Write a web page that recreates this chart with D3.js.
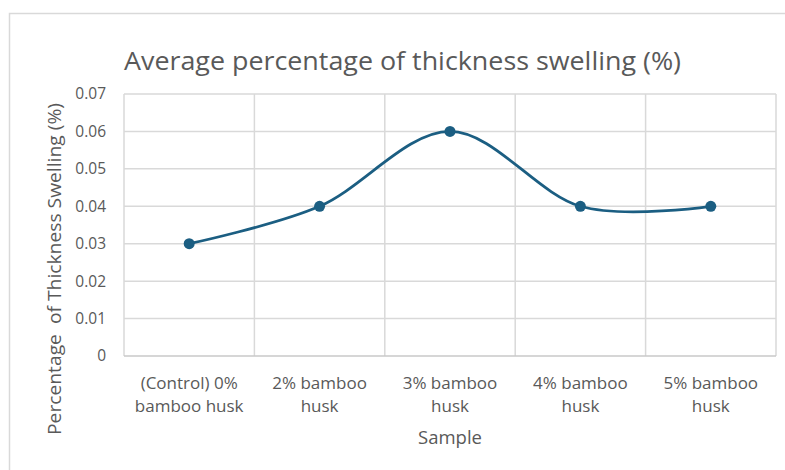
<!DOCTYPE html>
<html>
<head>
<meta charset="utf-8">
<script src="https://cdn.jsdelivr.net/npm/d3@7"></script>
<style>
  html, body { margin: 0; padding: 0; background: #fff; }
  svg { display: block; font-family: "Open Sans", "Noto Sans", sans-serif; }
</style>
</head>
<body>
<svg id="chart" width="785" height="470"></svg>
<script>
// Sample categories (two-line labels) and the average swelling values
const categories = [
  ["(Control) 0%", "bamboo husk"],
  ["2% bamboo", "husk"],
  ["3% bamboo", "husk"],
  ["4% bamboo", "husk"],
  ["5% bamboo", "husk"]
];
const swelling = [0.03, 0.04, 0.06, 0.04, 0.04];
const yTicks = [0, 0.01, 0.02, 0.03, 0.04, 0.05, 0.06, 0.07];

const chartTitle = "Average percentage of thickness swelling (%)";
const xTitle = "Sample";
const yTitle = "Percentage  of Thickness Swelling (%)";

const svg = d3.select("#chart");
const plot = { left: 124, right: 776, top: 94, bottom: 356 };
const textColor = "#595959";
const gridColor = "#d9d9d9";
const lineColor = "#1b5e82";

// outer chart border
svg.append("rect")
  .attr("x", 9.5).attr("y", 13.5)
  .attr("width", 800).attr("height", 500)
  .attr("fill", "#fff")
  .attr("stroke", "#d9d9d9").attr("stroke-width", 1.5);

const x = d3.scaleBand()
  .domain(categories.map((d, i) => i))
  .range([plot.left, plot.right])
  .paddingInner(0).paddingOuter(0);

const y = d3.scaleLinear().domain([0, 0.07]).range([plot.bottom, plot.top]);

// horizontal gridlines
svg.append("g")
  .selectAll("line")
  .data(yTicks.filter(t => t > 0))
  .join("line")
  .attr("x1", plot.left).attr("x2", plot.right)
  .attr("y1", d => y(d)).attr("y2", d => y(d))
  .attr("stroke", gridColor).attr("stroke-width", 1.5);

// vertical gridlines at category boundaries
const bounds = categories.map((d, i) => x(i)).concat([x(categories.length - 1) + x.bandwidth()]);
svg.append("g")
  .selectAll("line")
  .data(bounds)
  .join("line")
  .attr("x1", d => d).attr("x2", d => d)
  .attr("y1", plot.top).attr("y2", plot.bottom)
  .attr("stroke", gridColor).attr("stroke-width", 1.5);

// baseline
svg.append("line")
  .attr("x1", plot.left).attr("x2", plot.right)
  .attr("y1", y(0)).attr("y2", y(0))
  .attr("stroke", "#c8c8c8").attr("stroke-width", 1.5);

// y-axis tick labels
const yAxis = d3.axisLeft(y).tickValues(yTicks)
  .tickFormat(d => d === 0 ? "0" : d3.format(".2f")(d))
  .tickSize(0).tickPadding(18);
const yg = svg.append("g").attr("transform", `translate(${plot.left},0)`).call(yAxis);
yg.select(".domain").remove();
yg.selectAll("text")
  .attr("fill", textColor)
  .style("font-size", "15.5px")
  .style("font-family", "'Open Sans', sans-serif");

// x-axis category labels (two lines)
const xg = svg.append("g");
categories.forEach((lines, i) => {
  const t = xg.append("text")
    .attr("x", x(i) + x.bandwidth() / 2)
    .attr("y", 389)
    .attr("text-anchor", "middle")
    .attr("fill", textColor)
    .style("font-size", "17px");
  lines.forEach((s, k) => {
    t.append("tspan")
      .attr("x", x(i) + x.bandwidth() / 2)
      .attr("dy", k === 0 ? 0 : 23)
      .text(s);
  });
});

// smoothed series line
const line = d3.line()
  .x((d, i) => x(i) + x.bandwidth() / 2)
  .y(d => y(d))
  .curve(d3.curveCardinal.tension(0));

svg.append("path")
  .datum(swelling)
  .attr("d", line)
  .attr("fill", "none")
  .attr("stroke", lineColor)
  .attr("stroke-width", 2.75);

svg.append("g")
  .selectAll("circle")
  .data(swelling)
  .join("circle")
  .attr("cx", (d, i) => x(i) + x.bandwidth() / 2)
  .attr("cy", d => y(d))
  .attr("r", 5.5)
  .attr("fill", lineColor);

// titles
svg.append("text")
  .attr("x", 124).attr("y", 70)
  .attr("fill", textColor)
  .style("font-size", "25px")
  .attr("textLength", 557)
  .attr("lengthAdjust", "spacingAndGlyphs")
  .text(chartTitle);

svg.append("text")
  .attr("x", (plot.left + plot.right) / 2).attr("y", 444)
  .attr("text-anchor", "middle")
  .attr("fill", textColor)
  .style("font-size", "18.5px")
  .text(xTitle);

svg.append("text")
  .attr("transform", `translate(61,269) rotate(-90)`)
  .attr("text-anchor", "middle")
  .attr("fill", textColor)
  .style("font-size", "18px")
  .style("white-space", "pre")
  .attr("textLength", 332)
  .attr("lengthAdjust", "spacingAndGlyphs")
  .text(yTitle);
</script>
</body>
</html>
